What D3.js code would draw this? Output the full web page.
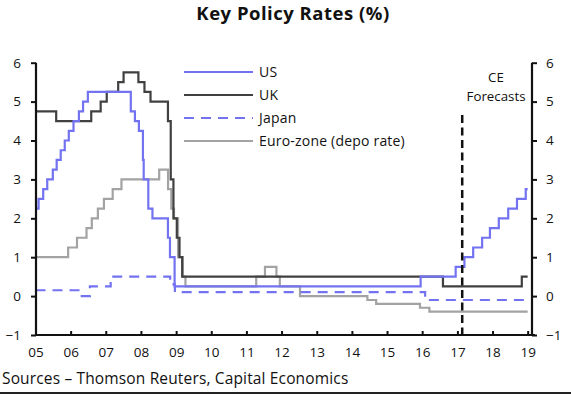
<!DOCTYPE html>
<html>
<head>
<meta charset="utf-8">
<script src="https://cdn.jsdelivr.net/npm/d3@7"></script>
<style>
  html, body { margin: 0; padding: 0; background: #fff; }
  svg { display: block; }
  text { font-family: "Open Sans", Lato, sans-serif; fill: #111; }
</style>
</head>
<body>
<svg id="chart" width="571" height="396"></svg>
<script>
// ---- Data (step series: date of change, rate %) ----
const usRates = [
  ["2005-01-01", 2.25], ["2005-02-02", 2.5], ["2005-03-22", 2.75], ["2005-05-03", 3.0],
  ["2005-06-30", 3.25], ["2005-08-09", 3.5], ["2005-09-20", 3.75], ["2005-11-01", 4.0],
  ["2005-12-13", 4.25], ["2006-01-31", 4.5], ["2006-03-28", 4.75], ["2006-05-10", 5.0],
  ["2006-06-29", 5.25], ["2007-09-18", 4.75], ["2007-10-31", 4.5], ["2007-12-11", 4.25],
  ["2008-01-22", 3.5], ["2008-01-30", 3.0], ["2008-03-18", 2.25], ["2008-04-30", 2.0],
  ["2008-10-08", 1.5], ["2008-10-29", 1.0], ["2008-12-16", 0.25], ["2015-12-16", 0.5],
  ["2016-12-14", 0.75], ["2017-03-15", 1.0], ["2017-06-14", 1.25], ["2017-09-15", 1.5],
  ["2017-12-05", 1.75], ["2018-03-07", 2.0], ["2018-06-13", 2.25], ["2018-09-12", 2.5],
  ["2018-12-12", 2.75], ["2019-01-01", 2.75]
];
const ukRates = [
  ["2005-01-01", 4.75], ["2005-08-04", 4.5], ["2006-08-03", 4.75], ["2006-11-09", 5.0],
  ["2007-01-11", 5.25], ["2007-05-10", 5.5], ["2007-07-05", 5.75], ["2007-12-06", 5.5],
  ["2008-02-07", 5.25], ["2008-04-10", 5.0], ["2008-10-08", 4.5], ["2008-11-06", 3.0],
  ["2008-12-04", 2.0], ["2009-01-08", 1.5], ["2009-02-05", 1.0], ["2009-03-05", 0.5],
  ["2016-08-04", 0.25], ["2018-11-01", 0.5], ["2019-01-01", 0.5]
];
const japanRates = [
  ["2005-01-01", 0.15], ["2006-04-10", 0.0], ["2006-07-20", 0.25], ["2007-02-21", 0.5],
  ["2008-10-31", 0.3], ["2008-12-19", 0.1], ["2016-02-01", -0.1], ["2019-01-01", -0.1]
];
const euroRates = [
  ["2005-01-01", 1.0], ["2005-12-06", 1.25], ["2006-03-08", 1.5], ["2006-06-15", 1.75],
  ["2006-08-09", 2.0], ["2006-10-11", 2.25], ["2006-12-13", 2.5], ["2007-03-14", 2.75],
  ["2007-06-13", 3.0], ["2008-07-09", 3.25], ["2008-10-09", 2.75], ["2008-11-12", 2.25],
  ["2008-12-10", 2.0], ["2009-01-21", 1.0], ["2009-03-11", 0.5], ["2009-04-08", 0.25],
  ["2011-04-13", 0.5], ["2011-07-13", 0.75], ["2011-11-09", 0.5], ["2011-12-14", 0.25],
  ["2012-07-11", 0.0], ["2014-06-11", -0.1], ["2014-09-10", -0.2], ["2015-12-09", -0.3],
  ["2016-03-16", -0.4], ["2019-01-01", -0.4]
];
const seriesNames = ["US", "UK", "Japan", "Euro-zone (depo rate)"];
const yTicks = [-1, 0, 1, 2, 3, 4, 5, 6];
const xTickYears = ["05","06","07","08","09","10","11","12","13","14","15","16","17","18","19"];
const forecastStart = "2017-02-20";
const titleText = "Key Policy Rates (%)";
const sourceText = "Sources \u2013 Thomson Reuters, Capital Economics";
const forecastLabel = ["CE", "Forecasts"];

// ---- Layout ----
const svg = d3.select("#chart");
const parse = d3.timeParse("%Y-%m-%d");
const plotLeft = 36, plotRight = 532, plotTop = 62.7, plotBottom = 335;
const fontMain = "'Open Sans', Lato, sans-serif";

const x = d3.scaleTime()
  .domain([parse("2005-01-01"), parse("2019-02-15")])
  .range([plotLeft - 0.5, plotRight]);
const y = d3.scaleLinear().domain([-1, 6]).range([plotBottom, plotTop]);

const styles = [
  { data: usRates, color: "#7373f2", dash: null },
  { data: ukRates, color: "#404040", dash: null },
  { data: japanRates, color: "#7373f2", dash: "10,7" },
  { data: euroRates, color: "#a3a3a3", dash: null }
];

const line = d3.line()
  .x(d => x(parse(d[0])))
  .y(d => y(d[1]))
  .curve(d3.curveStepAfter);

const drawOrder = [3, 2, 1, 0];
drawOrder.forEach(i => {
  const s = styles[i];
  svg.append("path")
    .datum(s.data)
    .attr("d", line)
    .attr("fill", "none")
    .attr("stroke", s.color)
    .attr("stroke-width", 2.2)
    .attr("stroke-dasharray", s.dash);
});

// Forecast divider
svg.append("line")
  .attr("x1", x(parse(forecastStart))).attr("x2", x(parse(forecastStart)))
  .attr("y1", 115).attr("y2", plotBottom)
  .attr("stroke", "#111").attr("stroke-width", 2.5)
  .attr("stroke-dasharray", "8,4.5");

svg.append("text")
  .attr("x", 496).attr("y", 82)
  .attr("text-anchor", "middle").attr("font-size", 13.3)
  .text(forecastLabel[0]);
svg.append("text")
  .attr("x", 496).attr("y", 101)
  .attr("text-anchor", "middle").attr("font-size", 13.3)
  .text(forecastLabel[1]);

// Axes
const yLeft = d3.axisLeft(y).tickValues(yTicks).tickSize(5).tickPadding(10).tickFormat(d3.format("d"));
const yRight = d3.axisRight(y).tickValues(yTicks).tickSize(5).tickPadding(9).tickFormat(d3.format("d"));
const xTickDates = xTickYears.map(t => parse("20" + t + "-01-01"));
const xAxis = d3.axisBottom(x).tickValues(xTickDates).tickSizeInner(-4).tickSizeOuter(0)
  .tickPadding(12).tickFormat(d3.timeFormat("%y"));

function styleAxis(g) {
  g.select(".domain").attr("stroke", "#111").attr("stroke-width", 2.2);
  g.selectAll(".tick line").attr("stroke", "#111").attr("stroke-width", 2);
  g.selectAll(".tick text").attr("font-size", 13.5).attr("fill", "#111")
    .style("font-family", fontMain);
}

svg.append("g").attr("transform", `translate(${plotLeft},0)`).call(yLeft).call(styleAxis)
  .call(g => g.select(".domain").attr("d", `M0,${plotTop}V${plotBottom}`));
svg.append("g").attr("transform", `translate(${plotRight},0)`).call(yRight).call(styleAxis)
  .call(g => g.select(".domain").attr("d", `M0,${plotTop}V${plotBottom}`));
svg.append("g").attr("transform", `translate(0,${plotBottom})`).call(xAxis).call(styleAxis)
  .call(g => g.select(".domain").attr("d", `M${plotLeft - 1},0H${plotRight + 3}`));

// Legend
const legendX1 = 184, legendX2 = 253, legendTextX = 259;
const legendY = [72, 95, 118, 141];
seriesNames.forEach((name, i) => {
  const s = styles[i];
  svg.append("line")
    .attr("x1", legendX1).attr("x2", legendX2)
    .attr("y1", legendY[i]).attr("y2", legendY[i])
    .attr("stroke", s.color).attr("stroke-width", 2.2)
    .attr("stroke-dasharray", s.dash);
  svg.append("text")
    .attr("x", legendTextX).attr("y", legendY[i] + 5)
    .attr("font-size", 14)
    .attr("letter-spacing", 0.2)
    .text(name);
});

// Title
svg.append("text")
  .attr("x", 293).attr("y", 20)
  .attr("text-anchor", "middle")
  .attr("font-size", 18.5).attr("font-weight", "bold")
  .attr("letter-spacing", 0.5)
  .text(titleText);

// Source
svg.append("text")
  .attr("x", 2).attr("y", 384)
  .attr("font-size", 15.5)
  .attr("letter-spacing", 0.15)
  .text(sourceText);

svg.append("line")
  .attr("x1", 0).attr("x2", 571).attr("y1", 393).attr("y2", 393)
  .attr("stroke", "#222").attr("stroke-width", 2);
</script>
</body>
</html>
